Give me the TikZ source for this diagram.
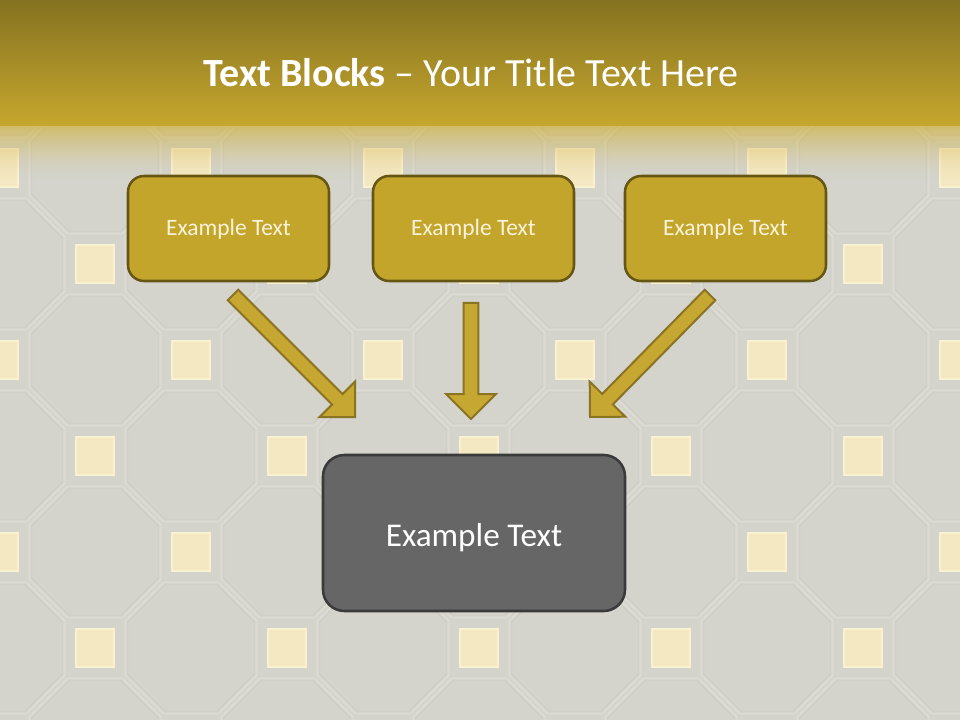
\documentclass[tikz,border=0pt]{standalone}
\usepackage{fontspec}
\setmainfont{Carlito}
\usetikzlibrary{calc}

\definecolor{bggray}{HTML}{D4D4CC}
\definecolor{tilelight}{HTML}{DBDBD4}
\definecolor{tiledark}{HTML}{CDCDC5}
\definecolor{tilesq}{HTML}{F4E8C2}
\definecolor{tileglow}{HTML}{FAF1D0}
\definecolor{headtop}{HTML}{857220}
\definecolor{headbot}{HTML}{C6A72E}
\definecolor{headfade}{HTML}{D1B54E}
\definecolor{boxfill}{HTML}{C4A52C}
\definecolor{boxline}{HTML}{665614}
\definecolor{boxtext}{HTML}{FAF3DA}
\definecolor{arrfill}{HTML}{C6A731}
\definecolor{arrline}{HTML}{8A7424}
\definecolor{darkfill}{HTML}{666666}
\definecolor{darkline}{HTML}{3A3A3A}

\tikzset{
  goldbox/.style={draw=boxline,fill=boxfill,line width=1.9pt,rounded corners=12pt,
    minimum width=150.75pt,minimum height=78.75pt,text=boxtext,
    text height=11.2pt,text depth=0pt,font=\fontsize{17.6}{20}\selectfont},
  darkbox/.style={draw=darkline,fill=darkfill,line width=1.9pt,rounded corners=16pt,
    minimum width=226.5pt,minimum height=117pt,text=white,
    text height=20pt,text depth=0pt,font=\fontsize{24.9}{28}\selectfont},
  titletext/.style={text=white,font=\fontsize{30}{34}\selectfont,anchor=base},
  arrowbody/.style={fill=arrfill,draw=arrline,line width=1.5pt,miter limit=10},
  octline/.style={draw=tilelight,line width=1.6pt},
  octshade/.style={draw=tiledark,line width=0.6pt},
  sqtile/.style={fill=tilesq,draw=tileglow,line width=1.5pt}
}

% block arrow from tail #1 to tip #2
\newcommand{\blockarrow}[2]{%
  \coordinate (neck) at ($(#2)!18.75pt!(#1)$);
  \filldraw[arrowbody] ($(#1)!5.6pt!90:(#2)$) -- ($(neck)!5.6pt!90:(#2)$)
    -- ($(neck)!18.75pt!90:(#2)$) -- (#2) -- ($(neck)!18.75pt!-90:(#2)$)
    -- ($(neck)!5.6pt!-90:(#2)$) -- ($(#1)!5.6pt!-90:(#2)$) -- cycle;
}

\begin{document}
\begin{tikzpicture}[x=0.75pt,y=-0.75pt]
\useasboundingbox (0,0) rectangle (960,720);
\fill[bggray] (0,0) rectangle (960,720); % background
% tiles
\foreach \i in {-1,...,10}{
  \foreach \j in {-1,...,6}{
    \pgfmathtruncatemacro{\odd}{mod(\i+\j+20,2)}
    \pgfmathsetmacro{\cx}{-1+96*\i}
    \pgfmathsetmacro{\cy}{168+96*\j}
    \ifnum\odd=1
      \draw[octline,shift={(\cx,\cy)}] (22.5:71) -- (67.5:71) -- (112.5:71) -- (157.5:71)
        -- (202.5:71) -- (247.5:71) -- (292.5:71) -- (337.5:71) -- cycle;
      \draw[octshade,shift={(\cx,\cy)}] (22.5:68.5) -- (67.5:68.5) -- (112.5:68.5) -- (157.5:68.5)
        -- (202.5:68.5) -- (247.5:68.5) -- (292.5:68.5) -- (337.5:68.5) -- cycle;
    \else
      \filldraw[sqtile] (\cx-19,\cy-19) rectangle (\cx+19,\cy+19);
    \fi
  }
}
% header band
\shade[top color=headtop,bottom color=headbot] (0,0) rectangle (960,126);
\foreach \k in {0,...,26}{
  \pgfmathsetmacro{\op}{0.75*(1-\k/27)^1.6}
  \fill[headfade,opacity=\op] (0,126+2*\k) rectangle (960,128+2*\k);
}
\node[titletext] (title) at (471,87) {\textbf{Text Blocks} \textendash{} Your Title Text Here};
% text blocks
\node[goldbox] (left) at (228.5,228.5) {Example Text};
\node[goldbox] (mid) at (473.5,228.5) {Example Text};
\node[goldbox] (right) at (725.5,228.5) {Example Text};
\node[darkbox] (result) at (474,533) {Example Text};
% arrows
\coordinate (lt) at (233,295); \coordinate (lh) at (355,417);
\coordinate (mt) at (471,303); \coordinate (mh) at (471,419);
\coordinate (rt) at (710,295); \coordinate (rh) at (590,417);
\blockarrow{lt}{lh}
\blockarrow{mt}{mh}
\blockarrow{rt}{rh}
\end{tikzpicture}
\end{document}
